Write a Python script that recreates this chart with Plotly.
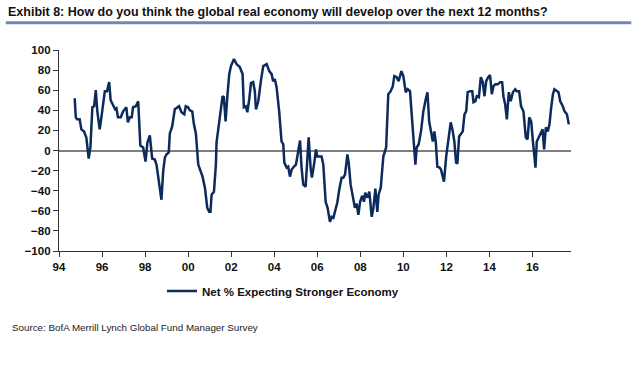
import plotly.graph_objects as go

# ---- data (decimal year, net % expecting stronger economy) ----
years = [
    1994.73, 1994.78, 1994.84, 1994.96, 1995.04, 1995.16, 1995.27, 1995.38, 1995.46, 1995.55,
    1995.63, 1995.71, 1995.78, 1995.89, 1995.97, 1996.05, 1996.13, 1996.23, 1996.33, 1996.40,
    1996.51, 1996.61, 1996.67, 1996.74, 1996.87, 1996.98, 1997.13, 1997.20, 1997.29, 1997.38,
    1997.44, 1997.57, 1997.68, 1997.78, 1997.91, 1998.02, 1998.11, 1998.22, 1998.33, 1998.45,
    1998.53, 1998.64, 1998.76, 1998.84, 1998.92, 1998.99, 1999.10, 1999.15, 1999.26, 1999.38,
    1999.49, 1999.58, 1999.69, 1999.82, 1999.89, 2000.00, 2000.08, 2000.19, 2000.27, 2000.36,
    2000.47, 2000.58, 2000.67, 2000.78, 2000.89, 2000.98, 2001.04, 2001.09, 2001.20, 2001.29,
    2001.32, 2001.43, 2001.51, 2001.60, 2001.66, 2001.74, 2001.83, 2001.91, 2001.99,
    2002.13, 2002.25, 2002.40, 2002.53, 2002.59, 2002.68, 2002.75, 2002.84, 2002.92, 2003.02,
    2003.10, 2003.15, 2003.26, 2003.38, 2003.49, 2003.65, 2003.77, 2003.88, 2003.95, 2004.03,
    2004.11, 2004.23, 2004.34, 2004.42, 2004.47, 2004.58, 2004.65, 2004.73, 2004.81, 2004.92,
    2005.01, 2005.09, 2005.20, 2005.27, 2005.35, 2005.46, 2005.51, 2005.60, 2005.69, 2005.75,
    2005.85, 2005.94, 2006.00, 2006.08, 2006.20, 2006.28, 2006.39, 2006.48, 2006.59, 2006.67,
    2006.75, 2006.82, 2006.93, 2007.02, 2007.13, 2007.21, 2007.29, 2007.40, 2007.46, 2007.55,
    2007.68, 2007.75, 2007.83, 2007.91, 2007.99, 2008.09, 2008.17, 2008.23, 2008.33, 2008.42,
    2008.53, 2008.61, 2008.70, 2008.79, 2008.85, 2008.95, 2009.07, 2009.20, 2009.30, 2009.41,
    2009.51, 2009.58, 2009.69, 2009.78, 2009.91, 2010.00, 2010.11, 2010.20, 2010.31, 2010.39,
    2010.50, 2010.56, 2010.62, 2010.71, 2010.82, 2010.93, 2011.04, 2011.12, 2011.20, 2011.29,
    2011.37, 2011.44, 2011.51, 2011.58, 2011.68, 2011.75, 2011.83, 2011.89, 2011.99, 2012.09,
    2012.20, 2012.28, 2012.37, 2012.45, 2012.51, 2012.59, 2012.67, 2012.76, 2012.84, 2012.92,
    2012.99, 2013.10, 2013.20, 2013.26, 2013.35, 2013.41, 2013.51, 2013.60, 2013.69, 2013.77,
    2013.85, 2013.94, 2014.03, 2014.11, 2014.19, 2014.28, 2014.39, 2014.50, 2014.59, 2014.65,
    2014.73, 2014.81, 2014.90, 2014.99, 2015.09, 2015.20, 2015.27, 2015.38, 2015.47, 2015.58,
    2015.69, 2015.77, 2015.85, 2015.94, 2016.02, 2016.08, 2016.14, 2016.20, 2016.31, 2016.39,
    2016.47, 2016.54, 2016.62, 2016.71, 2016.79, 2016.87, 2016.95, 2017.02, 2017.13, 2017.21,
    2017.29, 2017.41, 2017.49, 2017.60, 2017.69,
]
net_pct = [
    52, 33, 31, 31, 21, 19, 13, -8, 3, 43,
    44, 60, 39, 21, 33, 48, 59, 59, 68, 50,
    46, 41, 42, 33, 33, 39, 43, 28, 33, 33,
    43, 44, 49, 5, 3, -11, 8, 15, -8, -9,
    -14, -31, -49, -21, -7, -4, -2, 17, 24, 41,
    43, 44, 38, 36, 44, 43, 40, 39, 26, 17,
    -14, -21, -26, -37, -57, -61, -61, -44, -41, -14,
    8, 26, 38, 54, 53, 29, 56, 76, 84,
    91, 86, 83, 76, 43, 44, 38, 51, 67, 68,
    59, 41, 49, 69, 84, 86, 79, 76, 69, 71,
    63, 39, 9, 6, -12, -17, -16, -26, -19, -16,
    -14, -4, 10, -17, -34, -36, -17, 13, -17, -27,
    -14, 1, -6, -6, -6, -14, -51, -57, -71, -66,
    -67, -61, -52, -39, -27, -27, -24, -4, -12, -34,
    -51, -57, -53, -64, -51, -45, -51, -42, -47, -41,
    -66, -57, -38, -61, -44, -37, -6, 3, 56, 59,
    64, 74, 73, 69, 79, 74, 58, 61, 59, 36,
    1, -14, 3, 6, 19, 39, 51, 58, 29, 19,
    9, 19, 8, -16, -17, -19, -27, -31, -6, 9,
    28, 21, 9, -12, -13, 14, 16, 19, 36, 39,
    58, 59, 59, 48, 49, 54, 53, 73, 68, 54,
    69, 73, 75, 56, 64, 66, 66, 68, 68, 54,
    46, 31, 58, 49, 58, 61, 59, 59, 44, 39,
    13, 11, 33, 29, 9, -2, -17, 9, 14, 19,
    21, 1, 23, 19, 26, 43, 56, 61, 59, 58,
    49, 44, 39, 36, 26,
]
tick_years = [1994, 1996, 1998, 2000, 2002, 2004, 2006, 2008, 2010, 2012, 2014, 2016]
tick_labels = ["94", "96", "98", "00", "02", "04", "06", "08", "10", "12", "14", "16"]
series_name = "Net % Expecting Stronger Economy"
title_text = "Exhibit 8: How do you think the global real economy will develop over the next 12 months?"
source_text = "Source: BofA Merrill Lynch Global Fund Manager Survey"

W, H = 640, 366
PLOT_L, PLOT_R, PLOT_T, PLOT_B = 59, 571, 50, 251   # plot box in page pixels


def fx(p):
    return p / W


def fy(p):
    return 1 - p / H


LINE = "#0d2a5c"
RULE = "#7088ad"
FONT = "Liberation Sans, Arial, sans-serif"

fig = go.Figure()
fig.add_trace(go.Scatter(
    x=years, y=net_pct, mode="lines", name=series_name,
    line=dict(color=LINE, width=2.5), showlegend=True,
))

fig.update_layout(
    width=W, height=H,
    margin=dict(l=0, r=0, t=0, b=0, pad=0, autoexpand=False),
    paper_bgcolor="white", plot_bgcolor="white",
    title=dict(text="<b>" + title_text + "</b>", xref="container", yref="container",
               x=8 / W, xanchor="left", y=1 - 12 / H, yanchor="middle",
               pad=dict(l=0, r=0, t=0, b=0),
               font=dict(family=FONT, size=12.5, color="#111")),
    xaxis=dict(domain=[fx(PLOT_L), fx(PLOT_R)],
               range=[1994, 2017.79], tickvals=tick_years, ticktext=tick_labels,
               showgrid=False, zeroline=False, showline=True, linecolor="#333", linewidth=1.3,
               ticks="outside", ticklen=5, tickcolor="#333", tickwidth=1.3,
               tickfont=dict(family=FONT, size=11.5, color="#111", weight="bold")),
    yaxis=dict(domain=[fy(PLOT_B), fy(PLOT_T)],
               range=[-100, 100], dtick=20, tick0=0,
               showgrid=False, zeroline=True, zerolinecolor="#7f7f7f", zerolinewidth=1.5,
               showline=True, linecolor="#333", linewidth=1.3,
               ticks="outside", ticklen=5, tickcolor="#333", tickwidth=1.3,
               tickfont=dict(family=FONT, size=11.5, color="#111", weight="bold")),
    legend=dict(x=fx(162), y=fy(291), xanchor="left", yanchor="middle",
                bgcolor="rgba(0,0,0,0)", borderwidth=0,
                font=dict(family=FONT, size=11.5, color="#111", weight="bold")),
    annotations=[dict(text=source_text, xref="paper", yref="paper",
                      x=fx(10), y=fy(327), xanchor="left", yanchor="middle",
                      showarrow=False, font=dict(family=FONT, size=9.8, color="#222"))],
    shapes=[dict(type="rect", xref="paper", yref="paper", layer="above",
                 x0=fx(6), x1=fx(631), y0=fy(24), y1=fy(21.5),
                 fillcolor=RULE, line=dict(color=RULE, width=0.5))],
)

fig.write_html("out.html",
               config={"displayModeBar": False},
               post_script="document.body.style.margin='0';document.body.style.overflow='hidden';")
